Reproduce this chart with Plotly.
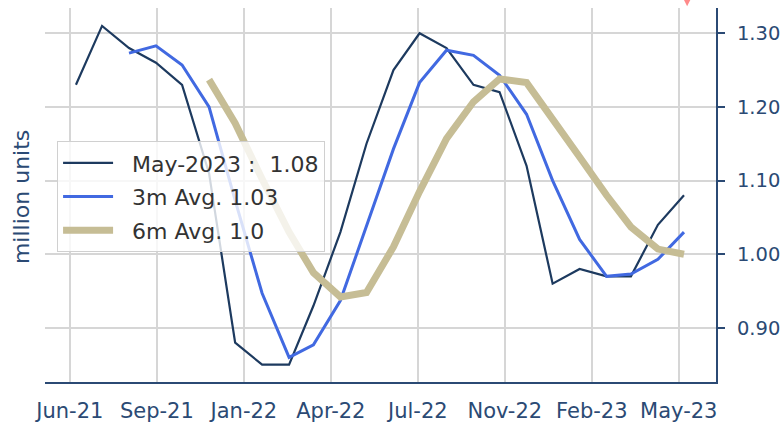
import plotly.graph_objects as go

# ---- data ----
months = ["2021-06-01", "2021-07-01", "2021-08-01", "2021-09-01", "2021-10-01", "2021-11-01",
          "2021-12-01", "2022-01-01", "2022-02-01", "2022-03-01", "2022-04-01", "2022-05-01",
          "2022-06-01", "2022-07-01", "2022-08-01", "2022-09-01", "2022-10-01", "2022-11-01",
          "2022-12-01", "2023-01-01", "2023-02-01", "2023-03-01", "2023-04-01", "2023-05-01"]
monthly = [1.23, 1.31, 1.28, 1.26, 1.23, 1.11, 0.88, 0.85, 0.85, 0.93, 1.03, 1.15,
           1.25, 1.30, 1.28, 1.23, 1.22, 1.12, 0.96, 0.98, 0.97, 0.97, 1.04, 1.08]
avg3 = [1.273, 1.283, 1.257, 1.200, 1.073, 0.947, 0.860, 0.877, 0.937, 1.037, 1.143,
        1.233, 1.277, 1.270, 1.243, 1.190, 1.100, 1.020, 0.970, 0.973, 0.993, 1.030]
avg6 = [1.237, 1.178, 1.102, 1.030, 0.975, 0.942, 0.948, 1.010, 1.085, 1.157, 1.207,
        1.238, 1.233, 1.185, 1.132, 1.080, 1.037, 1.007, 1.000]
avg3_months = months[2:]
avg6_months = months[5:]

tick_dates = ["2021-05-25", "2021-09-02", "2021-12-11", "2022-03-21",
              "2022-06-29", "2022-10-07", "2023-01-15", "2023-04-25"]
tick_labels = ["Jun-21", "Sep-21", "Jan-22", "Apr-22", "Jul-22", "Nov-22", "Feb-23", "May-23"]
y_ticks = [0.90, 1.00, 1.10, 1.20, 1.30]
y_tick_labels = ["0.90", "1.00", "1.10", "1.20", "1.30"]

names = ["May-2023 :  1.08", "3m Avg. 1.03", "6m Avg. 1.0"]

NAVY = "#1d3a5f"
AXIS = "#2b4a74"
BLUE = "#4169e1"
KHAKI = "#c6bd95"
FONT = "DejaVu Sans"
PAD = "\u00a0\u00a0"

fig = go.Figure()
fig.add_trace(go.Scatter(x=months, y=monthly, mode="lines", name=PAD + names[0], legendgroup="a",
                         line=dict(color=NAVY, width=2.2)))
fig.add_trace(go.Scatter(x=avg3_months, y=avg3, mode="lines", name=PAD + names[1], legendgroup="b",
                         line=dict(color=BLUE, width=3)))
fig.add_trace(go.Scatter(x=avg6_months, y=avg6, mode="lines", name=PAD + names[2], legendgroup="c",
                         line=dict(color=KHAKI, width=7)))

fig.update_layout(
    width=783, height=424,
    margin=dict(l=45, r=67, t=8, b=42),
    paper_bgcolor="white", plot_bgcolor="white",
    font=dict(family=FONT, size=20, color=AXIS),
    showlegend=True,
    legend=dict(x=0.018, y=0.644, xanchor="left", yanchor="top",
                bgcolor="rgba(255,255,255,0.8)", bordercolor="#d0d0d0", borderwidth=1,
                traceorder="grouped", tracegroupgap=2, itemwidth=50,
                font=dict(family=FONT, size=22, color="#333333")),
    xaxis=dict(type="date", range=["2021-04-26 10:00", "2023-06-06 19:00"],
               tickmode="array", tickvals=tick_dates, ticktext=tick_labels,
               showgrid=True, gridcolor="#d6d6d6", gridwidth=1.5,
               showline=True, linecolor=AXIS, linewidth=2,
               ticks="", ticklabelstandoff=9, automargin=False,
               tickfont=dict(family=FONT, size=21, color=AXIS),
               zeroline=False, fixedrange=True),
    yaxis=dict(side="right", range=[0.8265, 1.3343],
               tickmode="array", tickvals=y_ticks, ticktext=y_tick_labels,
               showgrid=True, gridcolor="#d6d6d6", gridwidth=1.5,
               showline=True, linecolor=AXIS, linewidth=2,
               ticks="outside", ticklen=7, tickwidth=1.5, tickcolor=AXIS,
               ticklabelstandoff=8, automargin=False,
               tickfont=dict(family=FONT, size=19.5, color=AXIS),
               zeroline=False, fixedrange=True),
)

fig.add_annotation(text="million units", textangle=-90, xref="paper", yref="paper",
                   x=-0.034, y=0.495, xanchor="center", yanchor="middle", showarrow=False,
                   font=dict(family=FONT, size=22, color=AXIS))
# small red marker partly cut off at the top edge
fig.add_shape(type="path", xref="paper", yref="paper",
              path="M 0.947 1.04 L 0.967 1.04 L 0.957 1.005 Z",
              fillcolor="#ff8a8a", line=dict(width=0), layer="above")

fig.write_html("out.html", config={"displayModeBar": False},
               post_script="document.body.style.margin='0px';document.body.style.overflow='hidden';")
